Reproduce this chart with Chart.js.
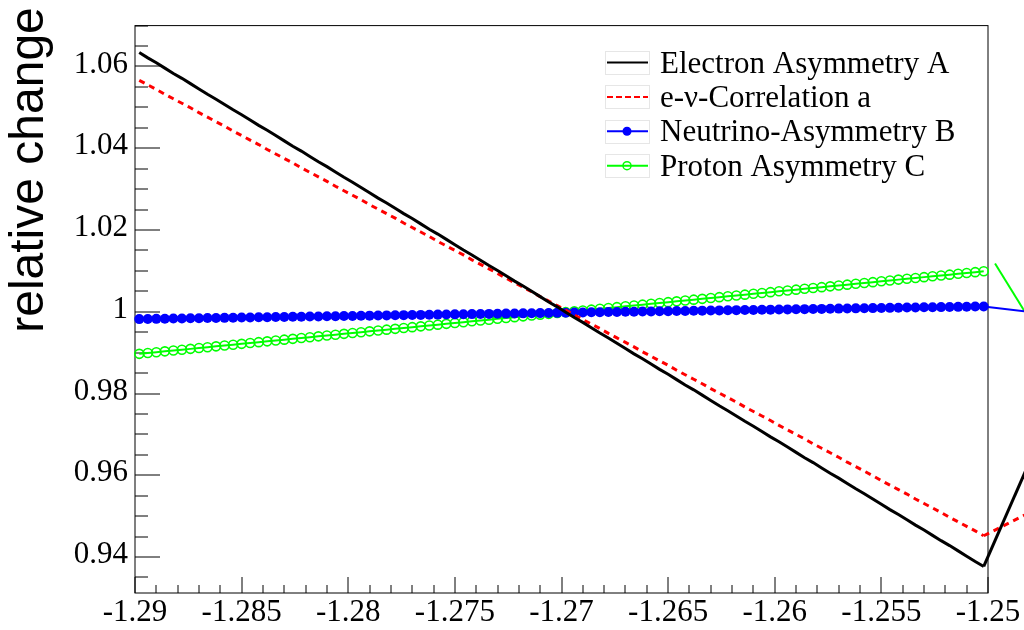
<!DOCTYPE html>
<html><head><meta charset="utf-8">
<script src="https://cdn.jsdelivr.net/npm/chart.js@4.4.1/dist/chart.umd.min.js"></script>
<style>html,body{margin:0;padding:0;background:#fff;overflow:hidden}</style>
</head><body>
<canvas id="c" width="1024" height="630"></canvas>
<script>
// ---- data ----
const lambdaValues = [
-1.2898,-1.2894,-1.2890,-1.2886,-1.2882,-1.2878,-1.2874,-1.2870,-1.2866,-1.2862,
-1.2858,-1.2854,-1.2850,-1.2846,-1.2842,-1.2838,-1.2834,-1.2830,-1.2826,-1.2822,
-1.2818,-1.2814,-1.2810,-1.2806,-1.2802,-1.2798,-1.2794,-1.2790,-1.2786,-1.2782,
-1.2778,-1.2774,-1.2770,-1.2766,-1.2762,-1.2758,-1.2754,-1.2750,-1.2746,-1.2742,
-1.2738,-1.2734,-1.2730,-1.2726,-1.2722,-1.2718,-1.2714,-1.2710,-1.2706,-1.2702,
-1.2698,-1.2694,-1.2690,-1.2686,-1.2682,-1.2678,-1.2674,-1.2670,-1.2666,-1.2662,
-1.2658,-1.2654,-1.2650,-1.2646,-1.2642,-1.2638,-1.2634,-1.2630,-1.2626,-1.2622,
-1.2618,-1.2614,-1.2610,-1.2606,-1.2602,-1.2598,-1.2594,-1.2590,-1.2586,-1.2582,
-1.2578,-1.2574,-1.2570,-1.2566,-1.2562,-1.2558,-1.2554,-1.2550,-1.2546,-1.2542,
-1.2538,-1.2534,-1.2530,-1.2526,-1.2522,-1.2518,-1.2514,-1.2510,-1.2506,-1.2502];

const electronAsymA = [
1.0634,1.0621,1.0609,1.0596,1.0583,1.0571,1.0558,1.0545,1.0532,1.0520,
1.0507,1.0494,1.0482,1.0469,1.0456,1.0444,1.0431,1.0418,1.0405,1.0393,
1.0380,1.0367,1.0355,1.0342,1.0329,1.0317,1.0304,1.0291,1.0278,1.0266,
1.0253,1.0240,1.0228,1.0215,1.0202,1.0190,1.0177,1.0164,1.0151,1.0139,
1.0126,1.0113,1.0101,1.0088,1.0075,1.0063,1.0050,1.0037,1.0024,1.0012,
0.9999,0.9986,0.9974,0.9961,0.9948,0.9936,0.9923,0.9910,0.9897,0.9885,
0.9872,0.9859,0.9847,0.9834,0.9821,0.9809,0.9796,0.9783,0.9770,0.9758,
0.9745,0.9732,0.9720,0.9707,0.9694,0.9682,0.9669,0.9656,0.9643,0.9631,
0.9618,0.9605,0.9593,0.9580,0.9567,0.9555,0.9542,0.9529,0.9516,0.9504,
0.9491,0.9478,0.9466,0.9453,0.9440,0.9428,0.9415,0.9402,0.9389,0.9377];

const eNuCorrelation = [
1.0566,1.0555,1.0544,1.0532,1.0521,1.0510,1.0499,1.0487,1.0476,1.0465,
1.0454,1.0442,1.0431,1.0420,1.0409,1.0397,1.0386,1.0375,1.0364,1.0352,
1.0341,1.0330,1.0319,1.0307,1.0296,1.0285,1.0274,1.0262,1.0251,1.0240,
1.0229,1.0217,1.0206,1.0195,1.0184,1.0172,1.0161,1.0150,1.0139,1.0127,
1.0116,1.0105,1.0094,1.0082,1.0071,1.0060,1.0049,1.0037,1.0026,1.0015,
1.0004,0.9992,0.9981,0.9970,0.9959,0.9947,0.9936,0.9925,0.9914,0.9902,
0.9891,0.9880,0.9869,0.9857,0.9846,0.9835,0.9824,0.9812,0.9801,0.9790,
0.9779,0.9767,0.9756,0.9745,0.9734,0.9722,0.9711,0.9700,0.9689,0.9677,
0.9666,0.9655,0.9644,0.9632,0.9621,0.9610,0.9599,0.9587,0.9576,0.9565,
0.9554,0.9542,0.9531,0.9520,0.9509,0.9497,0.9486,0.9475,0.9464,0.9452];

const neutrinoAsymB = [
0.99820,0.99823,0.99826,0.99829,0.99833,0.99836,0.99839,0.99842,0.99845,0.99848,
0.99851,0.99854,0.99858,0.99861,0.99864,0.99867,0.99870,0.99873,0.99876,0.99879,
0.99883,0.99886,0.99889,0.99892,0.99895,0.99898,0.99901,0.99905,0.99908,0.99911,
0.99914,0.99917,0.99920,0.99923,0.99926,0.99930,0.99933,0.99936,0.99939,0.99942,
0.99945,0.99948,0.99951,0.99955,0.99958,0.99961,0.99964,0.99967,0.99970,0.99973,
0.99977,0.99980,0.99983,0.99986,0.99989,0.99992,0.99995,0.99998,1.00002,1.00005,
1.00008,1.00011,1.00014,1.00017,1.00020,1.00023,1.00027,1.00030,1.00033,1.00036,
1.00039,1.00042,1.00045,1.00048,1.00052,1.00055,1.00058,1.00061,1.00064,1.00067,
1.00070,1.00074,1.00077,1.00080,1.00083,1.00086,1.00089,1.00092,1.00095,1.00099,
1.00102,1.00105,1.00108,1.00111,1.00114,1.00117,1.00120,1.00124,1.00127,1.00130];

const protonAsymC = [
0.98970,0.98990,0.99011,0.99031,0.99052,0.99072,0.99092,0.99113,0.99133,0.99154,
0.99174,0.99194,0.99215,0.99235,0.99256,0.99276,0.99296,0.99317,0.99337,0.99358,
0.99378,0.99398,0.99419,0.99439,0.99460,0.99480,0.99500,0.99521,0.99541,0.99562,
0.99582,0.99602,0.99623,0.99643,0.99664,0.99684,0.99704,0.99725,0.99745,0.99766,
0.99786,0.99806,0.99827,0.99847,0.99868,0.99888,0.99908,0.99929,0.99949,0.99970,
0.99990,1.00010,1.00031,1.00051,1.00072,1.00092,1.00112,1.00133,1.00153,1.00174,
1.00194,1.00214,1.00235,1.00255,1.00276,1.00296,1.00316,1.00337,1.00357,1.00378,
1.00398,1.00418,1.00439,1.00459,1.00480,1.00500,1.00520,1.00541,1.00561,1.00582,
1.00602,1.00622,1.00643,1.00663,1.00684,1.00704,1.00724,1.00745,1.00765,1.00786,
1.00806,1.00826,1.00847,1.00867,1.00888,1.00908,1.00928,1.00949,1.00969,1.00990];

// stray segments leaving the frame on the right (as in the reference)
const tailAX = [-1.2502, -1.2480], tailAY = [0.9377, 0.9639];
const tailaX = [-1.2502, -1.2480], tailaY = [0.9452, 0.9510];
const tailBX = [-1.2502, -1.2480], tailBY = [1.0013, 0.99995];
const tailCX = [-1.24967, -1.2480], tailCY = [1.0118, 0.9977];

const seriesLabels = ['Electron Asymmetry A', 'e-\u03bd-Correlation a', 'Neutrino-Asymmetry B', 'Proton Asymmetry C'];
const xRange = [-1.29, -1.25];
const yRange = [0.9312, 1.07];
const xTickValues = [-1.29, -1.285, -1.28, -1.275, -1.27, -1.265, -1.26, -1.255, -1.25];
const xTickLabels = ['-1.29', '-1.285', '-1.28', '-1.275', '-1.27', '-1.265', '-1.26', '-1.255', '-1.25'];
const yTickValues = [0.94, 0.96, 0.98, 1, 1.02, 1.04, 1.06];
const yTickLabels = ['0.94', '0.96', '0.98', '1', '1.02', '1.04', '1.06'];
const yTitle = 'relative change';

// ---- chart ----
const pts = (xs, ys) => xs.map((x, i) => ({x: x, y: ys[i]}));
const SERIF = '"Liberation Serif", "Times New Roman", serif';

const styles = [
  {color: '#000000', width: 3, dash: [], legendDash: [], legendWidth: 2, marker: null},
  {color: '#ff0000', width: 3, dash: [6, 5], legendDash: [6, 3], legendWidth: 2, marker: null},
  {color: '#0000ff', width: 2, dash: [], legendDash: [], legendWidth: 2, marker: 'full'},
  {color: '#00ff00', width: 2, dash: [], legendDash: [], legendWidth: 2, marker: 'open'}
];

const mainData = [electronAsymA, eNuCorrelation, neutrinoAsymB, protonAsymC];
const datasets = mainData.map((ys, k) => {
  const s = styles[k];
  return {
    label: seriesLabels[k],
    data: pts(lambdaValues, ys),
    borderColor: s.color,
    borderWidth: s.width,
    borderDash: s.dash,
    pointRadius: s.marker === 'full' ? 5 : (s.marker === 'open' ? 4.5 : 0),
    pointBackgroundColor: s.marker === 'full' ? s.color : 'rgba(0,0,0,0)',
    pointBorderColor: s.color,
    pointBorderWidth: s.marker === 'open' ? 1.6 : 0,
    pointHoverRadius: 0,
    tension: 0,
    fill: false,
    clip: false
  };
});
const tails = [[tailAX, tailAY], [tailaX, tailaY], [tailBX, tailBY], [tailCX, tailCY]];
tails.forEach((t, k) => {
  const s = styles[k];
  datasets.push({
    label: '_tail' + k,
    data: pts(t[0], t[1]),
    borderColor: s.color,
    borderWidth: s.width,
    borderDash: s.dash,
    pointRadius: 0,
    tension: 0,
    fill: false,
    clip: false
  });
});

const rootFrame = {
  id: 'rootFrame',
  beforeDatasetsDraw(chart) {
    const {ctx, chartArea: a, scales: {x, y}} = chart;
    ctx.save();
    ctx.strokeStyle = '#000';
    ctx.lineWidth = 1;
    ctx.strokeRect(a.left, a.top, a.right - a.left, a.bottom - a.top);
    ctx.beginPath();
    for (let k = 0; k <= 40; k++) {
      const v = xRange[0] + k * 0.001;
      const px = Math.round(x.getPixelForValue(v));
      const major = xTickValues.some(t => Math.abs(t - v) < 1e-9);
      ctx.moveTo(px, a.bottom);
      ctx.lineTo(px, a.bottom - (major ? 16 : 8));
    }
    for (let k = 0; k <= 30; k++) {
      const v = 0.935 + k * 0.005;
      if (v > yRange[1] + 1e-9) break;
      const py = Math.round(y.getPixelForValue(v));
      const major = yTickValues.some(t => Math.abs(t - v) < 1e-9);
      ctx.moveTo(a.left, py);
      ctx.lineTo(a.left + (major ? 25 : 13), py);
    }
    ctx.stroke();
    ctx.restore();
  },
  afterDraw(chart) {
    const {ctx} = chart;
    ctx.save();
    ctx.save();
    ctx.translate(43, 170);
    ctx.rotate(-Math.PI / 2);
    ctx.font = '48px "Liberation Sans", Arial, sans-serif';
    ctx.fillStyle = '#000';
    ctx.textAlign = 'center';
    ctx.textBaseline = 'alphabetic';
    ctx.fillText(yTitle, 0, 0);
    ctx.restore();
    for (let k = 0; k < 4; k++) {
      const s = styles[k];
      const rowY = 64.5 + 34.4 * k;
      const sy = rowY - 2;
      ctx.strokeStyle = '#e6e6e6';
      ctx.lineWidth = 1;
      ctx.setLineDash([]);
      ctx.strokeRect(605.5, Math.round(sy - 11.5) + 0.5, 44, 23);
      ctx.strokeStyle = s.color;
      ctx.lineWidth = s.legendWidth;
      ctx.setLineDash(s.legendDash);
      ctx.beginPath();
      ctx.moveTo(607, sy);
      ctx.lineTo(648, sy);
      ctx.stroke();
      ctx.setLineDash([]);
      if (s.marker) {
        ctx.beginPath();
        ctx.arc(627, sy, s.marker === 'full' ? 4.5 : 4, 0, Math.PI * 2);
        if (s.marker === 'full') { ctx.fillStyle = s.color; ctx.fill(); }
        else { ctx.lineWidth = 1.5; ctx.stroke(); }
      }
      ctx.fillStyle = '#000';
      ctx.font = '31px ' + SERIF;
      ctx.textAlign = 'left';
      ctx.textBaseline = 'middle';
      ctx.fillText(chart.data.datasets[k].label, 660, rowY);
    }
    ctx.restore();
  }
};

new Chart(document.getElementById('c'), {
  type: 'line',
  data: {datasets: datasets},
  options: {
    responsive: false,
    animation: false,
    events: [],
    devicePixelRatio: 1,
    layout: {padding: {left: 0, top: 23, right: 36, bottom: 0}},
    plugins: {legend: {display: false}, tooltip: {enabled: false}, title: {display: false}},
    scales: {
      x: {
        type: 'linear',
        position: 'bottom',
        bounds: 'data',
        afterDataLimits: s => { s.min = xRange[0]; s.max = xRange[1]; },
        afterBuildTicks: s => { s.ticks = xTickValues.map(v => ({value: v})); },
        afterFit: s => { s.height = 37; },
        grid: {display: false, drawTicks: false},
        border: {display: false},
        ticks: {
          autoSkip: false, maxRotation: 0, minRotation: 0, padding: 1,
          color: '#000', font: {family: SERIF, size: 31},
          callback: (v, i) => xTickLabels[i]
        }
      },
      y: {
        type: 'linear',
        position: 'left',
        bounds: 'data',
        afterDataLimits: s => { s.min = yRange[0]; s.max = yRange[1]; },
        afterBuildTicks: s => { s.ticks = yTickValues.map(v => ({value: v})); },
        afterFit: s => { s.width = 135; },
        grid: {display: false, drawTicks: false},
        border: {display: false},
        ticks: {
          autoSkip: false, padding: 7, labelOffset: -2,
          color: '#000', font: {family: SERIF, size: 31},
          callback: (v, i) => yTickLabels[i]
        }
      }
    }
  },
  plugins: [rootFrame]
});
</script>
</body></html>
